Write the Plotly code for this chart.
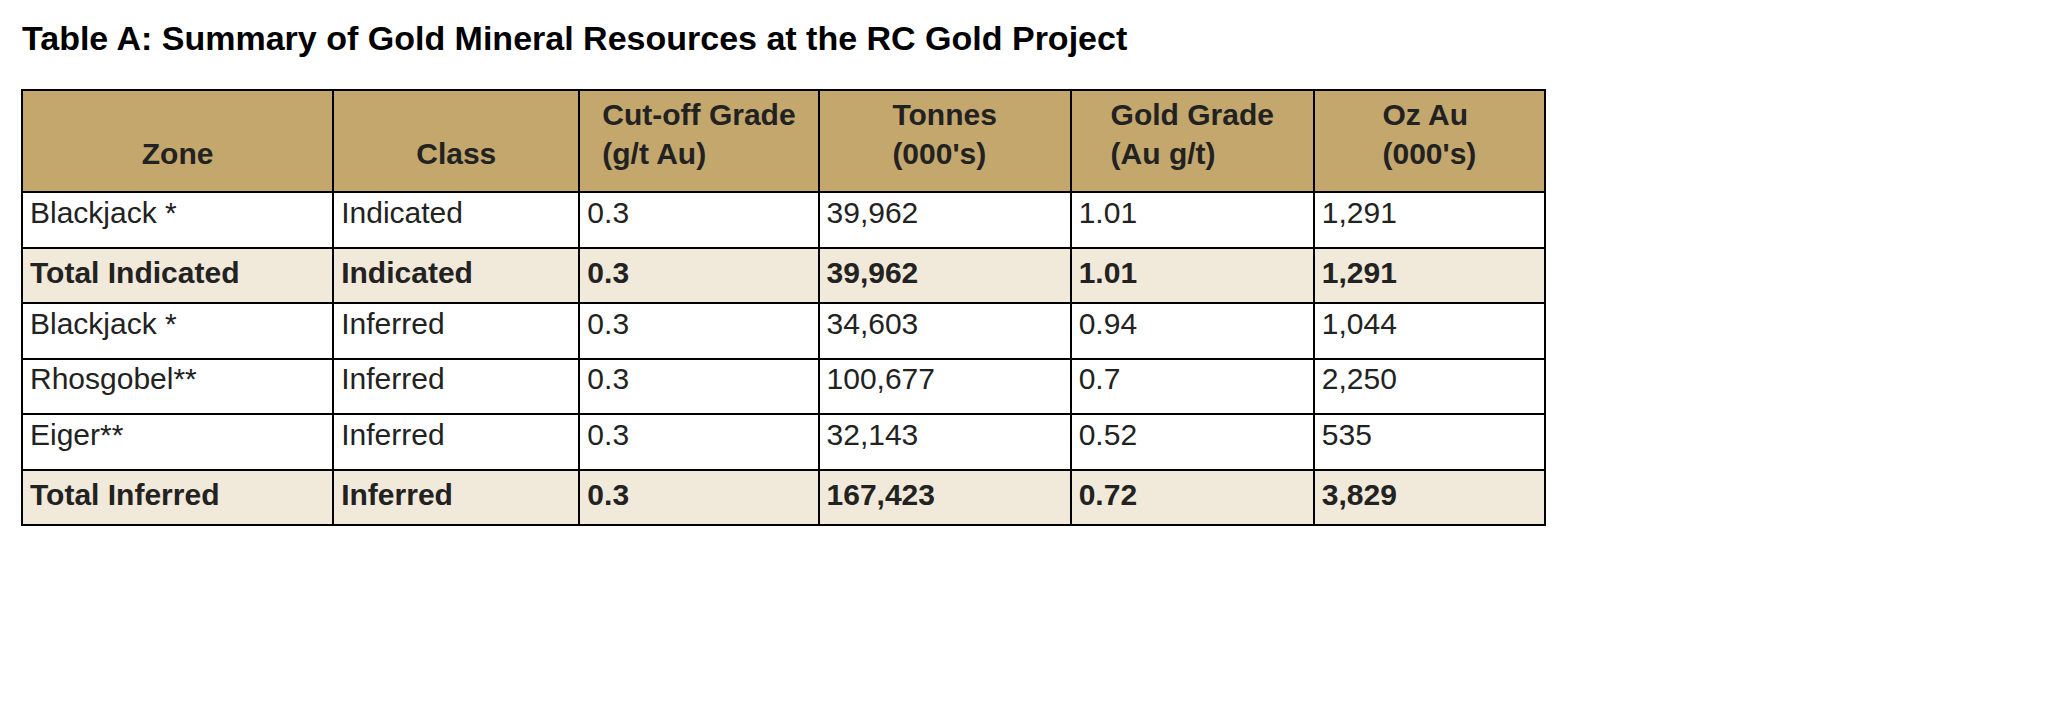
import plotly.graph_objects as go

headers = ["&nbsp;<br>Zone", "&nbsp;<br>Class", "Cut-off Grade<br>(g/t Au)", "Tonnes<br>(000's)",
           "Gold Grade<br>(Au g/t)", "Oz Au<br>(000's)"]
zones = ["Blackjack *", "Total Indicated", "Blackjack *", "Rhosgobel**", "Eiger**", "Total Inferred"]
classes = ["Indicated", "Indicated", "Inferred", "Inferred", "Inferred", "Inferred"]
cutoff = ["0.3", "0.3", "0.3", "0.3", "0.3", "0.3"]
tonnes = ["39,962", "39,962", "34,603", "100,677", "32,143", "167,423"]
grade = ["1.01", "1.01", "0.94", "0.7", "0.52", "0.72"]
oz = ["1,291", "1,291", "1,044", "2,250", "535", "3,829"]
is_total = [False, True, False, False, False, True]

cols = [zones, classes, cutoff, tonnes, grade, oz]
cols = [[f"<b>{v}</b>" if t else v for v, t in zip(c, is_total)] for c in cols]
fills = ["#f1e9d9" if t else "white" for t in is_total]

W, H = 2048, 725
fig = go.Figure(go.Table(
    domain=dict(x=[14 / W, 1537 / W], y=[0, 1 - 82 / H]),
    columnwidth=[311, 246, 239, 252, 243, 231],
    header=dict(values=[f"<b>{h}</b>" for h in headers], fill_color="#c4a76c",
                line=dict(color="black", width=2), align="center", height=102,
                font=dict(family="Liberation Sans, Arial", size=30, color="#222")),
    cells=dict(values=cols, fill_color=[fills] * 6,
               line=dict(color="black", width=2), align="left", height=55.5,
               font=dict(family="Liberation Sans, Arial", size=30, color="#222")),
))
fig.add_annotation(text="<b>Table A: Summary of Gold Mineral Resources at the RC Gold Project</b>",
                   xref="paper", yref="paper", x=12 / W, y=1 - 30 / H, xanchor="left",
                   yanchor="middle", showarrow=False,
                   font=dict(family="Liberation Sans, Arial", size=34, color="black"))
fig.update_layout(width=W, height=H, margin=dict(l=0, r=0, t=0, b=0),
                  paper_bgcolor="white", plot_bgcolor="white")
fig.write_html("out.html")
